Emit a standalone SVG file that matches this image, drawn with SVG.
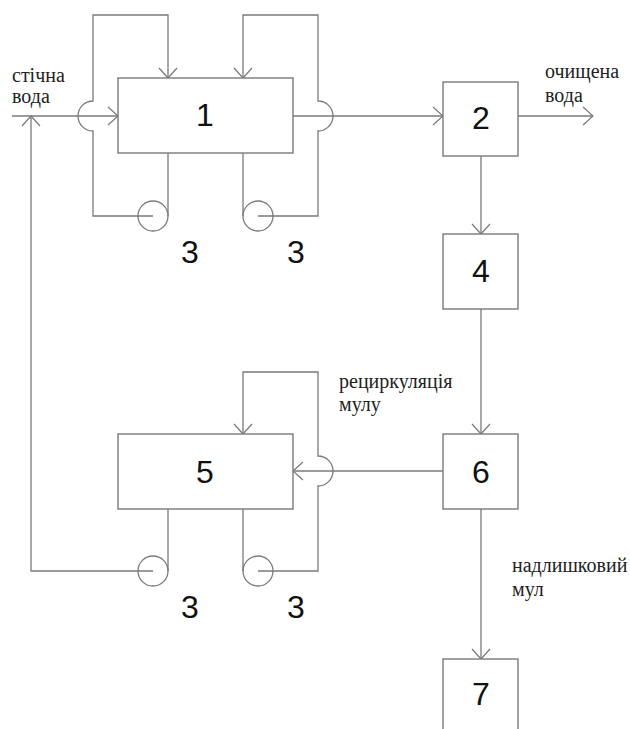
<svg xmlns="http://www.w3.org/2000/svg" width="630" height="729" viewBox="0 0 630 729">
  <defs>
    <marker id="arr" markerUnits="userSpaceOnUse" markerWidth="24" markerHeight="24" refX="12" refY="12" orient="auto" overflow="visible">
      <path d="M2,3 L12,12 L2,21" fill="none" stroke="#7a7a7a" stroke-width="1.2"/>
    </marker>
  </defs>
  <style>
    .box { fill: #ffffff; stroke: #7a7a7a; stroke-width: 1.4; }
    .ln { fill: none; stroke: #7a7a7a; stroke-width: 1.3; }
    .num { font-family: "Liberation Sans", Arial, sans-serif; font-size: 32px; fill: #111; text-anchor: middle; }
    text.lbl { font-family: "Liberation Serif", "Times New Roman", Times, serif; font-size: 20px; fill: #222; }
  </style>
  <rect width="630" height="729" fill="#ffffff"/>

  <g id="connectors">
    <path class="ln" d="M12,116 H118" marker-end="url(#arr)"/>
    <path class="ln" d="M293,116 H443" marker-end="url(#arr)"/>
    <path class="ln" d="M518,116 H593" marker-end="url(#arr)"/>
    <path class="ln" d="M481,156 V234" marker-end="url(#arr)"/>
    <path class="ln" d="M481,309 V434" marker-end="url(#arr)"/>
    <path class="ln" d="M481,509 V659" marker-end="url(#arr)"/>
    <path class="ln" d="M443,471 H293" marker-end="url(#arr)"/>
    <path class="ln" d="M153,571 H31 V116" marker-end="url(#arr)"/>
    <path class="ln" d="M168,153 V216"/>
    <path class="ln" d="M243,153 V216"/>
    <path class="ln" d="M153,216 H93 V131 A15,15 0 0 1 93,101 V15 H168 V78" marker-end="url(#arr)"/>
    <path class="ln" d="M258,216 H318 V131 A15,15 0 0 0 318,101 V15 H243 V78" marker-end="url(#arr)"/>
    <path class="ln" d="M168,509 V571"/>
    <path class="ln" d="M243,509 V571"/>
    <path class="ln" d="M258,571 H318 V486 A15,15 0 0 0 318,456 V372 H243 V434" marker-end="url(#arr)"/>
  </g>

  <g id="node1">
    <rect class="box" x="118" y="78" width="175" height="75"/>
    <text class="num" x="205" y="126">1</text>
  </g>
  <g id="pump1a">
    <circle class="ln" cx="153" cy="216" r="15"/>
    <text class="num" x="190" y="263">3</text>
  </g>
  <g id="pump1b">
    <circle class="ln" cx="258" cy="216" r="15"/>
    <text class="num" x="296" y="263">3</text>
  </g>
  <g id="node2">
    <rect class="box" x="443" y="82" width="75" height="74"/>
    <text class="num" x="481" y="129">2</text>
  </g>
  <g id="node4">
    <rect class="box" x="443" y="234" width="75" height="75"/>
    <text class="num" x="481" y="282">4</text>
  </g>
  <g id="node5">
    <rect class="box" x="118" y="434" width="175" height="75"/>
    <text class="num" x="205" y="483">5</text>
  </g>
  <g id="pump5a">
    <circle class="ln" cx="153" cy="571" r="15"/>
    <text class="num" x="190" y="618">3</text>
  </g>
  <g id="pump5b">
    <circle class="ln" cx="258" cy="571" r="15"/>
    <text class="num" x="296" y="618">3</text>
  </g>
  <g id="node6">
    <rect class="box" x="443" y="434" width="75" height="75"/>
    <text class="num" x="481" y="483">6</text>
  </g>
  <g id="node7">
    <rect class="box" x="443" y="659" width="75" height="80"/>
    <text class="num" x="481" y="705">7</text>
  </g>

  <g id="labels">
    <text class="lbl" style="font-family:'Liberation Serif',serif" x="12" y="82">стічна</text>
    <text class="lbl" style="font-family:'Liberation Serif',serif" x="12" y="103">вода</text>
    <text class="lbl" style="font-family:'Liberation Serif',serif" x="545" y="78">очищена</text>
    <text class="lbl" style="font-family:'Liberation Serif',serif" x="545" y="102">вода</text>
    <text class="lbl" style="font-family:'Liberation Serif',serif" x="339" y="388">рециркуляція</text>
    <text class="lbl" style="font-family:'Liberation Serif',serif" x="339" y="411">мулу</text>
    <text class="lbl" style="font-family:'Liberation Serif',serif" x="512" y="572">надлишковий</text>
    <text class="lbl" style="font-family:'Liberation Serif',serif" x="512" y="596">мул</text>
  </g>
</svg>
